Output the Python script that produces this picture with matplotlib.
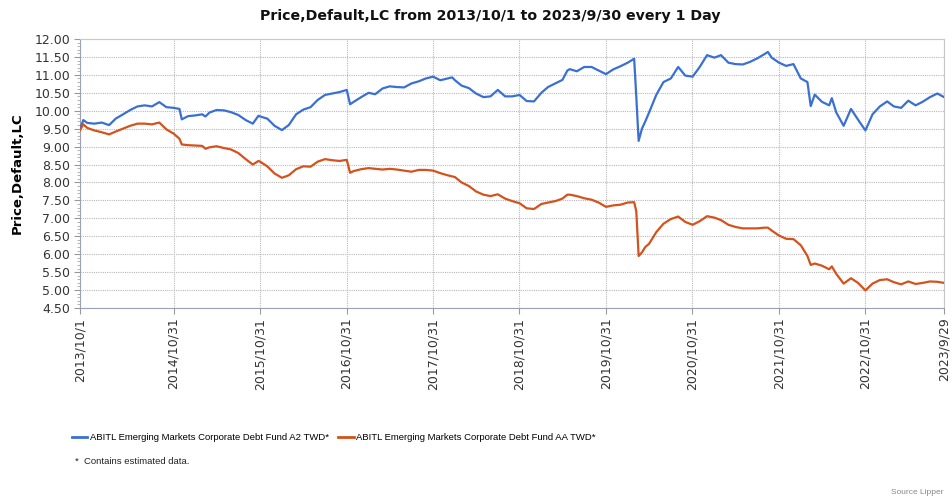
import numpy as np
import pandas as pd
import matplotlib
matplotlib.use("Agg")
import matplotlib.pyplot as plt
from matplotlib.ticker import MultipleLocator
from matplotlib.lines import Line2D

# Dates (roughly monthly, denser around sharp moves)
dates = [
    "2013-10-01", "2013-10-15", "2013-11-01", "2013-12-01", "2014-01-01", "2014-02-01",
    "2014-03-01", "2014-04-01", "2014-05-01", "2014-06-01", "2014-07-01", "2014-08-01",
    "2014-09-01", "2014-10-01", "2014-11-01", "2014-11-25", "2014-12-05", "2015-01-01",
    "2015-02-01", "2015-03-01", "2015-03-15", "2015-04-01", "2015-05-01", "2015-06-01",
    "2015-07-01", "2015-08-01", "2015-09-01", "2015-10-01", "2015-10-25", "2015-11-01",
    "2015-12-01", "2016-01-01", "2016-02-01", "2016-03-01", "2016-04-01", "2016-05-01",
    "2016-06-01", "2016-07-01", "2016-08-01", "2016-09-01", "2016-10-01", "2016-11-01",
    "2016-11-15", "2016-12-01", "2017-01-01", "2017-02-01", "2017-03-01", "2017-04-01",
    "2017-05-01", "2017-06-01", "2017-07-01", "2017-08-01", "2017-09-01", "2017-10-01",
    "2017-11-01", "2017-12-01", "2018-01-01", "2018-01-20", "2018-02-01", "2018-03-01",
    "2018-04-01", "2018-05-01", "2018-06-01", "2018-07-01", "2018-08-01", "2018-09-01",
    "2018-10-01", "2018-11-01", "2018-12-01", "2019-01-01", "2019-02-01", "2019-03-01",
    "2019-04-01", "2019-05-01", "2019-05-22", "2019-06-01", "2019-07-01", "2019-08-01",
    "2019-09-01", "2019-10-01", "2019-11-01", "2019-12-01", "2020-01-01", "2020-02-01",
    "2020-02-28", "2020-03-08", "2020-03-18", "2020-04-01", "2020-04-15", "2020-05-01",
    "2020-06-01", "2020-07-01", "2020-08-01", "2020-09-01", "2020-10-01", "2020-11-01",
    "2020-12-01", "2021-01-01", "2021-02-01", "2021-03-01", "2021-04-01", "2021-05-01",
    "2021-06-01", "2021-07-01", "2021-08-01", "2021-09-01", "2021-09-15", "2021-10-01",
    "2021-11-01", "2021-12-01", "2022-01-01", "2022-02-01", "2022-03-01", "2022-03-15",
    "2022-04-01", "2022-05-01", "2022-06-01", "2022-06-12", "2022-07-01", "2022-08-01",
    "2022-09-01", "2022-10-01", "2022-11-01", "2022-12-01", "2023-01-01", "2023-02-01",
    "2023-03-01", "2023-04-01", "2023-05-01", "2023-06-01", "2023-07-01", "2023-08-01",
    "2023-09-01", "2023-09-29",
]

fund_a2 = [
    9.50, 9.74, 9.66, 9.64, 9.67, 9.60,
    9.78, 9.90, 10.02, 10.12, 10.15, 10.12,
    10.24, 10.10, 10.08, 10.05, 9.76, 9.85,
    9.87, 9.90, 9.84, 9.95, 10.02, 10.01,
    9.96, 9.88, 9.74, 9.64, 9.86, 9.84,
    9.78, 9.58, 9.46, 9.60, 9.90, 10.03,
    10.10, 10.30, 10.44, 10.48, 10.52, 10.58,
    10.18, 10.25, 10.38, 10.50, 10.46, 10.62,
    10.68, 10.66, 10.65, 10.76, 10.82, 10.90,
    10.95, 10.85, 10.90, 10.93, 10.85, 10.70,
    10.63, 10.48, 10.38, 10.40, 10.58, 10.40,
    10.40, 10.44, 10.27, 10.26, 10.50, 10.66,
    10.76, 10.86, 11.12, 11.16, 11.10, 11.22,
    11.22, 11.12, 11.02, 11.15, 11.24, 11.34,
    11.45, 10.40, 9.16, 9.50, 9.70, 9.95,
    10.45, 10.80, 10.90, 11.22, 10.98, 10.95,
    11.22, 11.55, 11.48, 11.55, 11.34, 11.30,
    11.29, 11.36, 11.46, 11.58, 11.64, 11.48,
    11.34, 11.25, 11.30, 10.90, 10.80, 10.13,
    10.45, 10.25, 10.15, 10.35, 9.95, 9.58,
    10.05, 9.75, 9.45, 9.90, 10.12, 10.26,
    10.12, 10.08, 10.28, 10.15, 10.25, 10.38,
    10.48, 10.38,
]

fund_aa = [
    9.46, 9.62, 9.52, 9.45, 9.40, 9.34,
    9.42, 9.50, 9.58, 9.64, 9.64, 9.62,
    9.67, 9.48, 9.36, 9.22, 9.06, 9.04,
    9.03, 9.02, 8.94, 8.98, 9.01, 8.96,
    8.92, 8.82, 8.65, 8.50, 8.60, 8.58,
    8.45, 8.25, 8.13, 8.20, 8.37, 8.45,
    8.44, 8.58, 8.65, 8.62, 8.60, 8.63,
    8.27, 8.32, 8.37, 8.40, 8.38, 8.36,
    8.38, 8.36, 8.33, 8.30, 8.35, 8.35,
    8.33, 8.26, 8.20, 8.17, 8.15, 8.00,
    7.90, 7.75, 7.66, 7.62, 7.67, 7.55,
    7.48, 7.42, 7.28, 7.26, 7.40, 7.44,
    7.48, 7.55, 7.66, 7.66, 7.62, 7.56,
    7.52, 7.44, 7.32, 7.36, 7.38, 7.44,
    7.45, 7.20, 5.95, 6.05, 6.20, 6.29,
    6.62, 6.85, 6.98, 7.05, 6.90, 6.82,
    6.92, 7.06, 7.02, 6.95, 6.82, 6.76,
    6.72, 6.72, 6.72, 6.74, 6.74, 6.66,
    6.52, 6.43, 6.42, 6.25, 5.95, 5.70,
    5.74, 5.68, 5.58, 5.66, 5.45, 5.18,
    5.33, 5.20, 4.99, 5.18, 5.28, 5.30,
    5.22, 5.16, 5.24, 5.17, 5.20, 5.24,
    5.23, 5.20,
]

tick_dates = ["2013-10-01", "2014-10-31", "2015-10-31", "2016-10-31", "2017-10-31",
              "2018-10-31", "2019-10-31", "2020-10-31", "2021-10-31", "2022-10-31",
              "2023-09-29"]
tick_labels = ["2013/10/1", "2014/10/31", "2015/10/31", "2016/10/31", "2017/10/31",
               "2018/10/31", "2019/10/31", "2020/10/31", "2021/10/31", "2022/10/31",
               "2023/9/29"]

series_names = ["ABITL Emerging Markets Corporate Debt Fund A2 TWD*",
                "ABITL Emerging Markets Corporate Debt Fund AA TWD*"]
colors = ["#3a6fd3", "#d4521c"]

small_font = ["Liberation Sans", "DejaVu Sans"]


def main():
    x = pd.to_datetime(dates)
    ticks = pd.to_datetime(tick_dates)

    fig = plt.figure(figsize=(9.52, 5.0), dpi=100)
    ax = fig.add_axes([80 / 952, 1 - 308 / 500, (944 - 80) / 952, (308 - 39) / 500])

    ax.plot(x, fund_a2, color=colors[0], linewidth=1.6, zorder=3)
    ax.plot(x, fund_aa, color=colors[1], linewidth=1.6, zorder=3)

    ax.set_xlim(ticks[0], ticks[-1])
    ax.set_ylim(4.5, 12.0)
    ax.yaxis.set_major_locator(MultipleLocator(0.5))
    ax.yaxis.set_minor_locator(MultipleLocator(0.1))
    ax.yaxis.set_major_formatter(matplotlib.ticker.FormatStrFormatter("%.2f"))
    ax.set_xticks(ticks)
    ax.set_xticklabels(tick_labels, rotation=90)

    ax.tick_params(axis="both", labelsize=9, colors="#999999", labelcolor="#333333")
    ax.tick_params(axis="y", which="major", length=4, pad=3)
    ax.tick_params(axis="y", which="minor", length=2, color="#aaaaaa")
    ax.tick_params(axis="x", length=4, pad=3)

    ax.grid(True, which="major", color="#b8b8b8", linestyle=(0, (1, 1)), linewidth=0.8)
    for side in ["left", "bottom"]:
        ax.spines[side].set_color("#9aa2b4")
    for side in ["top", "right"]:
        ax.spines[side].set_color("#c8c8c8")

    ax.set_ylabel("Price,Default,LC", fontsize=9.5, fontweight="bold", labelpad=8)

    fig.text(490 / 952, 1 - 16 / 500, "Price,Default,LC from 2013/10/1 to 2023/9/30 every 1 Day",
             ha="center", va="center", fontsize=10.2, fontweight="bold", color="#111111")

    handles = [Line2D([], [], color=c, linewidth=2) for c in colors]
    fig.legend(handles, series_names, loc="center left", bbox_to_anchor=(72 / 952, 1 - 438 / 500),
               ncol=2, frameon=False, borderpad=0, borderaxespad=0, handlelength=1.6,
               handletextpad=0.3, columnspacing=1.0,
               prop={"family": small_font, "size": 6.8})

    fig.text(75 / 952, 1 - 461 / 500, "*  Contains estimated data.", ha="left", va="center",
             fontsize=6.8, family=small_font, color="#222222")
    fig.text(891 / 952, 1 - 492 / 500, "Source Lipper", ha="left", va="center",
             fontsize=6.0, family=small_font, color="#888888")

    fig.savefig("out.png", dpi=100)
    plt.close(fig)


if __name__ == "__main__":
    main()
